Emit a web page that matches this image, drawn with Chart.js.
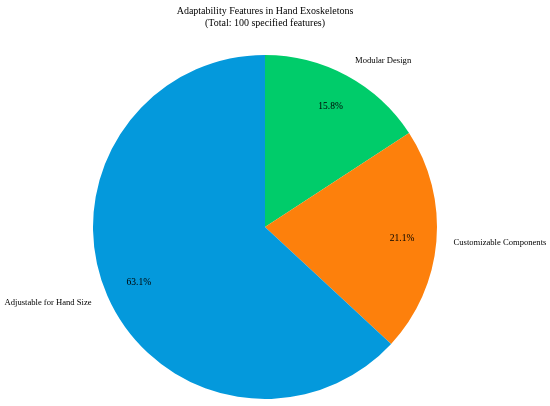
<!DOCTYPE html>
<html>
<head>
<meta charset="utf-8">
<script src="https://cdn.jsdelivr.net/npm/chart.js@4/dist/chart.umd.min.js"></script>
<style>
  html, body { margin: 0; padding: 0; background: #ffffff; }
  #wrap { width: 550px; height: 406px; position: relative; }
</style>
</head>
<body>
<div id="wrap"><canvas id="pieChart"></canvas></div>
<script>
// data
let labels = ['Modular Design', 'Customizable Components', 'Adjustable for Hand Size'];
let shares = [15.8, 21.1, 63.1];
let colors = ['#00cc6a', '#fd800c', '#0499dc'];
let titleLines = ['Adaptability Features in Hand Exoskeletons', '(Total: 100 specified features)'];

let serif = '"Liberation Serif", "Times New Roman", serif';

// labels outside + percent inside, matplotlib style
let pieText = {
  id: 'pieText',
  afterDraw(chart) {
    let ctx = chart.ctx;
    let meta = chart.getDatasetMeta(0);
    let total = shares.reduce((a, b) => a + b, 0);
    ctx.save();
    ctx.fillStyle = '#000';
    ctx.textBaseline = 'middle';
    meta.data.forEach((arc, i) => {
      let mid = (arc.startAngle + arc.endAngle) / 2;
      let r = arc.outerRadius;
      let cx = arc.x, cy = arc.y;
      // percent
      ctx.font = '9.5px ' + serif;
      ctx.textAlign = 'center';
      let pct = (shares[i] / total * 100).toFixed(1) + '%';
      ctx.fillText(pct, cx + Math.cos(mid) * r * 0.8, cy + Math.sin(mid) * r * 0.8);
      // label
      ctx.font = '8.6px ' + serif;
      let lx = cx + Math.cos(mid) * r * 1.1;
      let ly = cy + Math.sin(mid) * r * 1.1;
      ctx.textAlign = Math.cos(mid) >= 0 ? 'left' : 'right';
      ctx.fillText(labels[i], lx, ly);
    });
    // title
    ctx.font = '10px ' + serif;
    ctx.textAlign = 'center';
    ctx.fillText(titleLines[0], 265, 11);
    ctx.fillText(titleLines[1], 265, 23);
    ctx.restore();
  }
};

let pieChart = new Chart(document.getElementById('pieChart').getContext('2d'), {
  type: 'pie',
  data: {
    labels: labels,
    datasets: [{
      data: shares,
      backgroundColor: colors,
      borderWidth: 0
    }]
  },
  options: {
    responsive: true,
    maintainAspectRatio: false,
    animation: false,
    layout: {
      padding: { top: 55, bottom: 7, left: 0, right: 20 }
    },
    plugins: {
      legend: { display: false },
      tooltip: { enabled: false }
    }
  },
  plugins: [pieText]
});
</script>
</body>
</html>
